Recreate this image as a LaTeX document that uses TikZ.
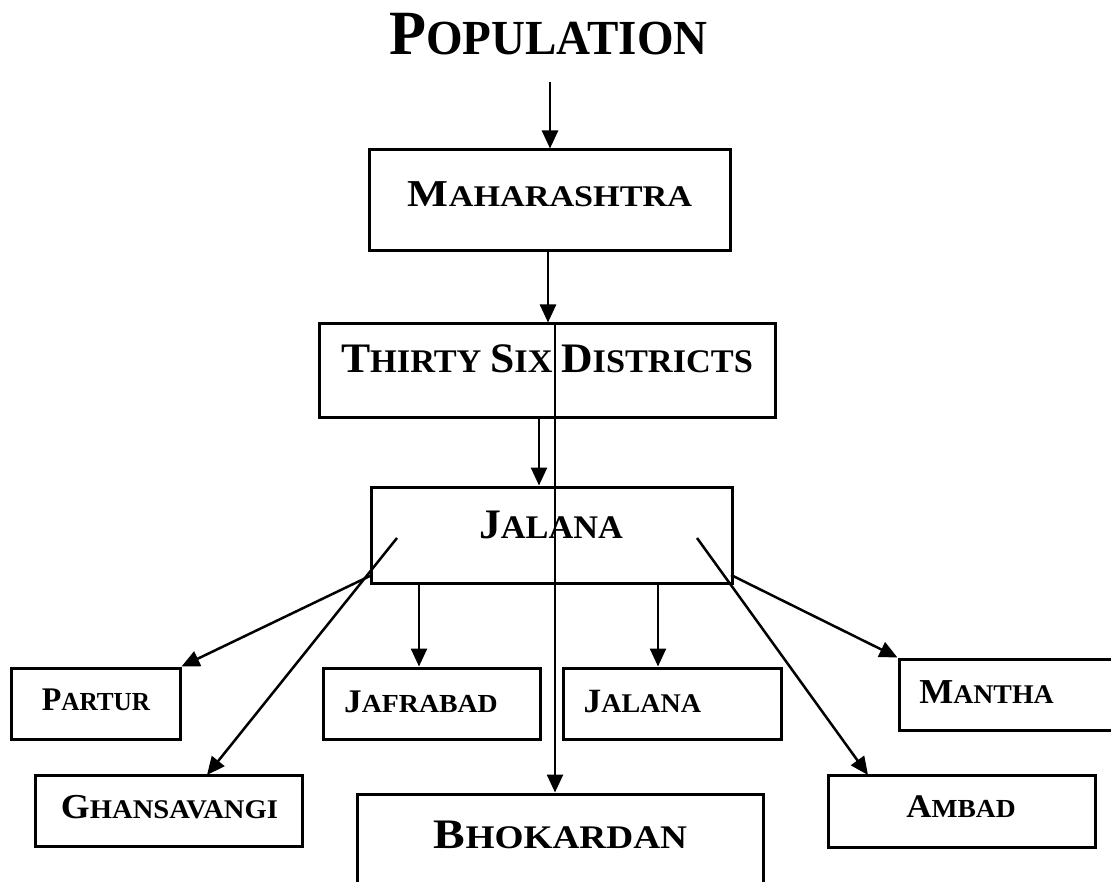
\documentclass[tikz,border=0pt]{standalone}
\usepackage{fontspec}
\setmainfont{Liberation Serif}
\usetikzlibrary{arrows.meta}
\newcommand\mysc[4]{{\fontsize{#1pt}{#1pt}\selectfont\bfseries #3}{\fontsize{#2pt}{#2pt}\selectfont\bfseries #4}}
\newcommand\stretchto[1]{\addfontfeatures{FakeStretch=#1}}
\tikzset{
  box/.style={draw=black, line width=3pt, rectangle, inner sep=0pt},
  lbl/.style={anchor=base, inner sep=0pt},
  arr/.style={line width=2.5pt, -{Triangle[length=18pt,width=16pt]}},
}
\begin{document}
\begin{tikzpicture}[x=1pt,y=-1pt]
\useasboundingbox[fill=white] (0,0) rectangle (1111,882);
% boxes
\node[box, minimum width=361pt, minimum height=101pt] (mah) at (549.5,200.5) {};
\node[box, minimum width=456pt, minimum height=93pt] (tsd) at (547,370.5) {};
\node[box, minimum width=361pt, minimum height=96pt] (jal) at (551.5,535) {};
\node[box, minimum width=169pt, minimum height=71pt] (par) at (95.5,703.5) {};
\node[box, minimum width=217pt, minimum height=71pt] (jaf) at (431.5,703.5) {};
\node[box, minimum width=218pt, minimum height=71pt] (jal2) at (672,703.5) {};
\node[box, minimum width=240pt, minimum height=71pt] (man) at (1019,694.5) {};
\node[box, minimum width=267pt, minimum height=71pt] (gha) at (168.5,810.5) {};
\node[box, minimum width=406pt, minimum height=110pt] (bho) at (560,849) {};
\node[box, minimum width=267pt, minimum height=72pt] (amb) at (961.5,811) {};
% labels
\node[lbl, font=\stretchto{0.96}] (tpop) at (548.5,55) {\mysc{63}{49}{P}{OPULATION}};
\node[lbl, font=\stretchto{1.14}] (tmah) at (550,207) {\mysc{38}{30}{M}{AHARASHTRA}};
\node[lbl, font=\stretchto{1.04}] (ttsd) at (547,373) {\mysc{42}{33}{T}{HIRTY }\mysc{42}{33}{S}{IX }\mysc{42}{33}{D}{ISTRICTS}};
\node[lbl, font=\stretchto{1.04}] (tjal) at (551,538) {\mysc{42}{33}{J}{ALANA}};
\node[lbl, font=\stretchto{0.97}] (tpar) at (96,710) {\mysc{33}{26}{P}{ARTUR}};
\node[lbl, font=\stretchto{1.07}] (tjaf) at (421,712) {\mysc{33}{26}{J}{AFRABAD}};
\node[lbl, font=\stretchto{1.04}] (tjal2) at (642.5,712) {\mysc{34}{27}{J}{ALANA}};
\node[lbl, font=\stretchto{1.03}] (tman) at (986.5,703) {\mysc{35}{27}{M}{ANTHA}};
\node[lbl, font=\stretchto{1.06}] (tgha) at (169.5,818) {\mysc{35}{27}{G}{HANSAVANGI}};
\node[lbl, font=\stretchto{1.13}] (tbho) at (560.5,848) {\mysc{42}{33}{B}{HOKARDAN}};
\node[lbl, font=\stretchto{1.06}] (tamb) at (961,817) {\mysc{33}{26}{A}{MBAD}};
% connector start points
\coordinate (c0) at (550,82);
\coordinate (c1) at (548,251);
\coordinate (c2) at (555,324);
\coordinate (c3) at (539,417);
\coordinate (c4) at (372,575);
\coordinate (c5) at (397,538);
\coordinate (c6) at (419,583);
\coordinate (c7) at (658,583);
\coordinate (c8) at (731,575);
\coordinate (c9) at (697,538);
\coordinate (e5) at (207,775);
\coordinate (e9) at (868,775);
% connectors
\draw[arr] (c0) -- (c0 |- mah.north);
\draw[arr] (c1) -- (c1 |- tsd.north);
\draw[arr] (c2) -- (c2 |- bho.north);
\draw[arr] (c3) -- (c3 |- jal.north);
\draw[arr] (c4) -- (par.north east);
\draw[arr] (c5) -- (e5);
\draw[arr] (c6) -- (c6 |- jaf.north);
\draw[arr] (c7) -- (c7 |- jal2.north);
\draw[arr] (c8) -- (man.north west);
\draw[arr] (c9) -- (e9);
\end{tikzpicture}
\end{document}
